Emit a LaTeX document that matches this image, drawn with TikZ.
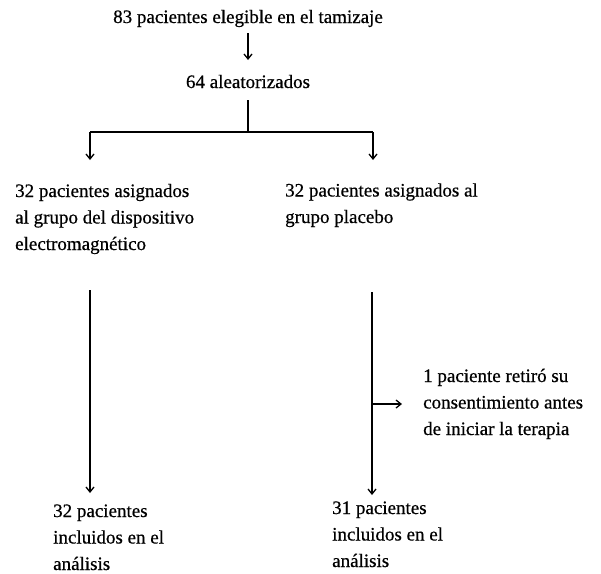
\documentclass[tikz,border=0pt]{standalone}
\usepackage{fontspec}
\setmainfont{Liberation Serif}[FakeBold=0.6]
\usetikzlibrary{arrows.meta,positioning}
\tikzset{
  txt/.style={inner sep=0pt, font=\fontsize{19}{26.5}\selectfont, align=left},
  flow/.style={line width=1.3pt, -{Straight Barb[length=5pt,width=8pt]}},
  link/.style={line width=1.3pt}
}
\begin{document}
\begin{tikzpicture}[x=1pt,y=-1pt]
  \useasboundingbox (0,0) rectangle (601,573);
  % top of the chart
  \node[txt, anchor=base] (elig) at (248,23) {83 pacientes elegible en el tamizaje};
  \node[txt, anchor=base] (alea) at (248,88) {64 aleatorizados};
  \coordinate (e1) at (248,33);
  \coordinate (e2) at (248,60);
  \draw[flow] (e1) -- (e2);
  \coordinate (a1) at (248,100);
  \coordinate (split) at (248,132);
  \coordinate (sl) at (90,132);
  \coordinate (sr) at (373,132);
  \draw[link] (a1) -- (split);
  \draw[link] (sl) -- (sr);

  % groups
  \node[txt, anchor=base west] (grpl) at (15,250) {32 pacientes asignados\\al grupo del dispositivo\\electromagnético};
  \node[txt, anchor=base west] (grpr) at (285,223) {32 pacientes asignados al\\grupo placebo};
  \coordinate (tl) at (90,160);
  \coordinate (tr) at (373,160);
  \draw[flow] (sl) -- (tl);
  \draw[flow] (sr) -- (tr);

  % follow-up
  \coordinate (ll) at (90,290);
  \coordinate (lr) at (372,292);
  \node[txt, anchor=base west] (excl) at (423,435) {1 paciente retiró su\\consentimiento antes\\de iniciar la terapia};
  \coordinate (side) at (372,404);
  \coordinate (sx) at (402,404);
  \draw[flow] (side) -- (sx);

  % analysis
  \node[txt, anchor=base west] (anl) at (53,570) {32 pacientes\\incluidos en el\\análisis};
  \node[txt, anchor=base west] (anr) at (332,567) {31 pacientes\\incluidos en el\\análisis};
  \coordinate (bl) at (90,493);
  \coordinate (br) at (372,495);
  \draw[flow] (ll) -- (bl);
  \draw[flow] (lr) -- (br);
\end{tikzpicture}
\end{document}
